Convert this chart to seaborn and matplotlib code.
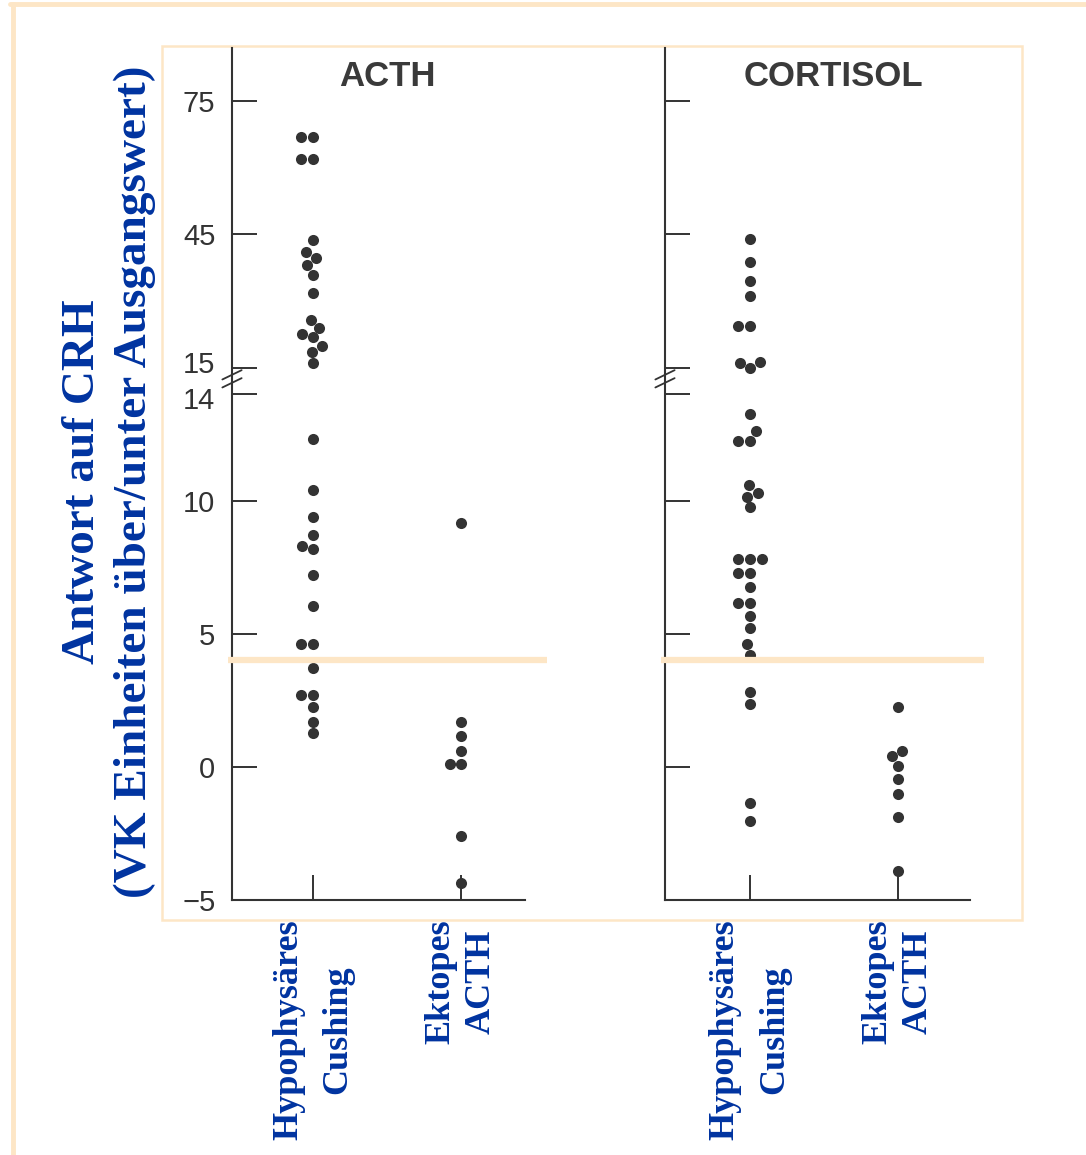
import numpy as np
import pandas as pd
import matplotlib
matplotlib.use("Agg")
import matplotlib.pyplot as plt
import matplotlib.transforms as mtransforms
import seaborn as sns
from matplotlib.lines import Line2D
from matplotlib.patches import Rectangle

# Werte (Antwort auf CRH)
gruppen = ["Hypophysäres\nCushing", "Ektopes\nACTH"]

acth_cushing = [67, 67, 62, 62, 43.7, 41.1, 39.6, 38, 35.9, 31.8, 25.7, 23.9, 22.5,
                21.8, 19.8, 18.5, 16.0, 12.3, 10.4, 9.4, 8.7, 8.3, 8.2, 7.2, 6.05,
                4.6, 4.6, 3.7, 2.7, 2.7, 2.25, 1.7, 1.27]
acth_ektop = [9.15, 1.7, 1.15, 0.6, 0.1, 0.1, -2.6, -4.35]

cortisol_cushing = [43.9, 38.7, 34.4, 31.1, 24.4, 24.4, 16.3, 16.1, 15.0, 13.25, 12.6,
                    12.25, 12.25, 10.6, 10.3, 10.15, 9.75, 7.8, 7.8, 7.8, 7.3, 7.3, 6.75,
                    6.15, 6.15, 5.65, 5.2, 4.6, 4.2, 2.8, 2.35, -1.35, -2.05]
cortisol_ektop = [2.25, 0.6, 0.4, 0.05, -0.45, -1.0, -1.9, -3.9]

grenzwert = 4
yticks = [-5, 0, 5, 10, 14, 15, 45, 75]
yticklabels = ["\u22125", "0", "5", "10", "14", "15", "45", "75"]

blau = "#0033a0"
grau = "#333333"
orange = "#fde6c6"


def fwd(v):
    v = np.asarray(v, dtype=float)
    return np.where(v <= 15, v, 15 + (v - 15) / 6.0)


def inv(t):
    t = np.asarray(t, dtype=float)
    return np.where(t <= 15, t, 15 + (t - 15) * 6.0)


def make_df(a, b):
    return pd.DataFrame({
        "gruppe": [gruppen[0]] * len(a) + [gruppen[1]] * len(b),
        "wert": list(a) + list(b),
    })


df_acth = make_df(acth_cushing, acth_ektop)
df_cort = make_df(cortisol_cushing, cortisol_ektop)

sns.set_style("white")
plt.rcParams["font.family"] = ["Liberation Sans", "DejaVu Sans"]

W, H = 1086, 1155
fig = plt.figure(figsize=(W / 100, H / 100), dpi=100)


def px_axes(x0, y0, x1, y1):
    return fig.add_axes([x0 / W, 1 - y1 / H, (x1 - x0) / W, (y1 - y0) / H])


ax1 = px_axes(232, 48, 525, 900)
ax2 = px_axes(665, 48, 970, 900)

panels = [
    (ax1, df_acth, "ACTH", (-0.547, 1.43), 0.532, True),
    (ax2, df_cort, "CORTISOL", (-0.574, 1.486), 0.551, False),
]

for ax, df, titel, xl, tx, labels in panels:
    ax.set_facecolor("none")
    ax.set_yscale("function", functions=(fwd, inv))
    ax.set_ylim(-5, 87)
    ax.set_xlim(*xl)
    sns.swarmplot(data=df, x="gruppe", y="wert", order=gruppen, color=grau,
                  size=8, linewidth=0, ax=ax)
    ax.set_xlim(*xl)
    ax.set_ylim(-5, 87)
    ax.set_xlabel("")
    ax.set_ylabel("")

    ax.set_yticks(yticks)
    ax.set_yticklabels(yticklabels if labels else [])
    ax.yaxis.set_minor_locator(matplotlib.ticker.NullLocator())
    ax.tick_params(axis="y", left=True, direction="in", length=18, width=1.4, pad=12,
                   labelsize=21, labelcolor=grau, color=grau)
    ax.set_xticks([0, 1])
    ax.set_xticklabels(gruppen, rotation=90, ha="center", va="top",
                       multialignment="center", linespacing=1.3,
                       fontsize=26, fontweight="bold", color=blau,
                       family=["Liberation Serif", "DejaVu Serif"])
    ax.get_xticklabels()[0].set_linespacing(1.65)
    ax.tick_params(axis="x", bottom=True, direction="in", length=18, width=1.4, pad=14,
                   color=grau)

    if labels:
        # 15 und 14 etwas auseinander schieben, wie im Original
        for lab in ax.get_yticklabels():
            if lab.get_text() == "15":
                lab.set_transform(lab.get_transform() +
                                  mtransforms.ScaledTranslation(0, 4 / 72, fig.dpi_scale_trans))
            elif lab.get_text() == "14":
                lab.set_transform(lab.get_transform() +
                                  mtransforms.ScaledTranslation(0, -3 / 72, fig.dpi_scale_trans))

    for s in ["top", "right"]:
        ax.spines[s].set_visible(False)
    for s in ["left", "bottom"]:
        ax.spines[s].set_color(grau)
        ax.spines[s].set_linewidth(1.5)

    # Grenzwert-Linie
    ax.plot([xl[0] - 0.03, 1.58], [grenzwert, grenzwert], color=orange, lw=4.5,
            solid_capstyle="butt", clip_on=False, zorder=5)

    # Achsenbruch //
    x0 = xl[0]
    for dy in (0.0, 0.3):
        ax.plot([x0 - 0.065, x0 + 0.065], [14.25 + dy, 14.6 + dy], color=grau,
                lw=1.3, clip_on=False, zorder=6)

    ax.text(tx, 0.967, titel, transform=ax.transAxes, ha="center", va="center",
            fontsize=25, fontweight="bold", color="#3a3a3a")

# y-Achsentitel
fig.text(109 / W, 1 - 482 / H,
         "Antwort auf CRH\n(VK Einheiten über/unter Ausgangswert)",
         rotation=90, ha="center", va="center", multialignment="center",
         linespacing=1.32, fontsize=34, fontweight="bold", color=blau,
         family=["Liberation Serif", "DejaVu Serif"])

# Rahmen
fig.add_artist(Rectangle((162 / W, 1 - 920 / H), (1022 - 162) / W, (920 - 46) / H,
                         transform=fig.transFigure, fill=False, edgecolor=orange,
                         lw=1.8, zorder=0))
fig.add_artist(Line2D([10 / W, 1], [1 - 4 / H, 1 - 4 / H], transform=fig.transFigure,
                      color=orange, lw=3.5))
fig.add_artist(Line2D([13 / W, 13 / W], [0, 1 - 4 / H], transform=fig.transFigure,
                      color=orange, lw=3.5))

fig.savefig("out.png", dpi=100)
